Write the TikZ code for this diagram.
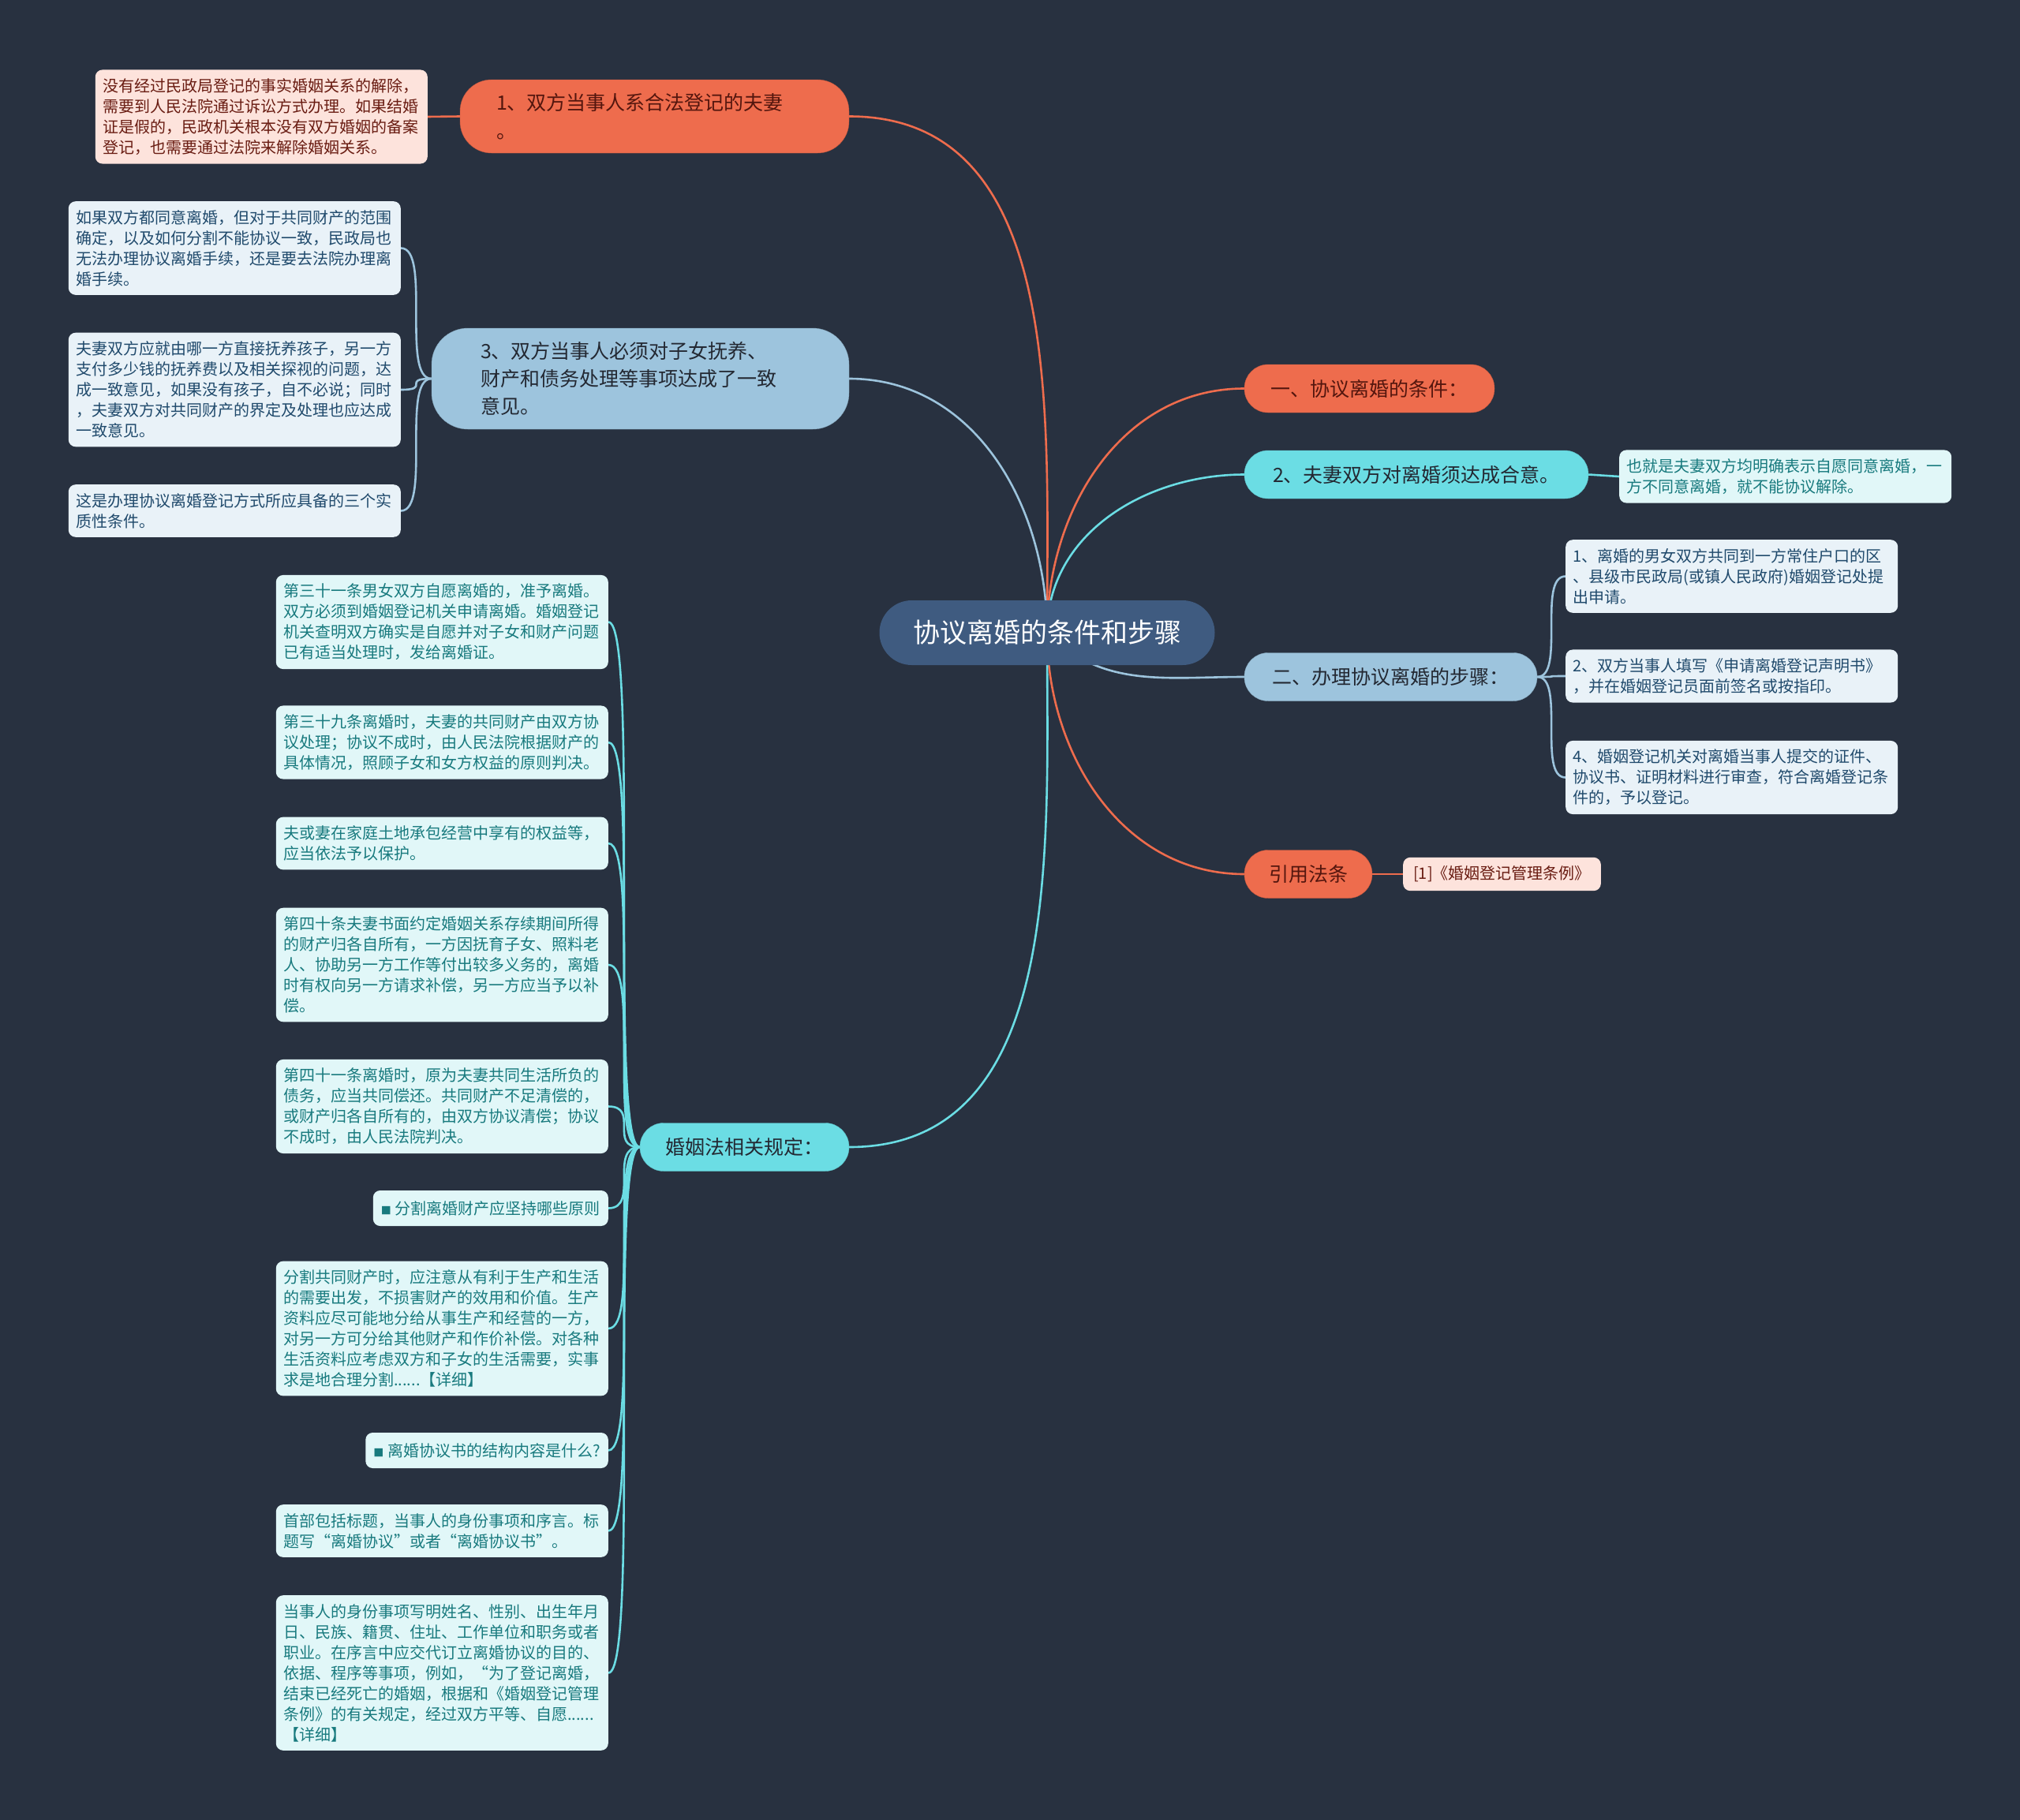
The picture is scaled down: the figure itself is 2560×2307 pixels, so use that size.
\documentclass[tikz,border=0pt]{standalone}
\usepackage{fontspec}
\newfontfamily\cjk{Noto Sans CJK SC}
\pgfdeclarelayer{bg}
\pgfdeclarelayer{edges}
\pgfsetlayers{bg,edges,main}

\definecolor{bgcol}{RGB}{40,49,64}
\definecolor{rootcol}{RGB}{63,91,128}
\definecolor{orangecol}{RGB}{238,108,77}
\definecolor{bluecol}{RGB}{157,196,221}
\definecolor{cyancol}{RGB}{107,221,228}
\definecolor{pinkleaf}{RGB}{253,227,220}
\definecolor{blueleaf}{RGB}{233,242,248}
\definecolor{cyanleaf}{RGB}{225,247,248}
\definecolor{pinktext}{RGB}{105,28,18}
\definecolor{bluetext}{RGB}{32,74,108}
\definecolor{cyantext}{RGB}{24,122,126}
\definecolor{darktext}{RGB}{35,40,50}

\begin{document}
\begin{tikzpicture}[x=1pt,y=-1pt]

\tikzstyle{rootnode} = [rectangle, rounded corners=41pt, minimum width=425pt, minimum height=82pt, fill=rootcol, text=white, font=\cjk\fontsize{34}{40}\selectfont]
\tikzstyle{branch} = [rectangle, rounded corners=30pt, minimum height=61pt, text=darktext, font=\cjk\fontsize{25}{36}\selectfont]
\tikzstyle{orangebranch} = [branch, fill=orangecol, draw=orangecol!80!black, text=pinktext!80!black]
\tikzstyle{bluebranch} = [branch, fill=bluecol, draw=bluecol!85!black]
\tikzstyle{cyanbranch} = [branch, fill=cyancol, draw=cyancol!85!black]
\tikzstyle{leaf} = [rectangle, rounded corners=9pt, text width=402pt, align=left, inner xsep=9.5pt, inner ysep=11pt, font=\cjk\fontsize{20}{26}\selectfont]
\tikzstyle{pinkbox} = [leaf, fill=pinkleaf, text=pinktext]
\tikzstyle{bluebox} = [leaf, fill=blueleaf, text=bluetext]
\tikzstyle{cyanbox} = [leaf, fill=cyanleaf, text=cyantext]
\tikzstyle{cyantag} = [rectangle, rounded corners=9pt, minimum height=45pt, inner xsep=10pt, fill=cyanleaf, text=cyantext, font=\cjk\fontsize{20}{26}\selectfont]
\tikzstyle{orangeline} = [draw=orangecol, line width=2.6pt]
\tikzstyle{blueline} = [draw=bluecol, line width=2.6pt]
\tikzstyle{cyanline} = [draw=cyancol, line width=2.6pt]

\begin{pgfonlayer}{bg}
\fill [bgcol] (0,0) rectangle (2560,2307);
\end{pgfonlayer}

% centre and main branches
\node (root) [rootnode] at (1327,802) {协议离婚的条件和步骤};
\node (b1) [orangebranch, minimum width=493pt, minimum height=93pt, text width=401pt, align=left, inner xsep=46pt, rounded corners=40pt] at (829.5,147.5) {1、双方当事人系合法登记的夫妻\\。};
\node (b3) [bluebranch, minimum width=529pt, minimum height=128pt, text width=405pt, align=left, inner xsep=62pt, rounded corners=46pt, font=\cjk\fontsize{25}{35}\selectfont] at (811.5,480) {3、双方当事人必须对子女抚养、\\财产和债务处理等事项达成了一致\\意见。};
\node (r1) [orangebranch, minimum width=317pt] at (1735.5,492.5) {一、协议离婚的条件：};
\node (r2) [cyanbranch, minimum width=436pt] at (1795,601.5) {2、夫妻双方对离婚须达成合意。};
\node (r3) [bluebranch, minimum width=371pt] at (1762.5,858) {二、办理协议离婚的步骤：};
\node (r4) [orangebranch, minimum width=162pt] at (1658,1108) {引用法条};
\node (law) [cyanbranch, minimum width=265pt] at (943.5,1454) {婚姻法相关规定：};

% leaves
\node (l1) [pinkbox, anchor=east] at (542,148) {没有经过民政局登记的事实婚姻关系的解除，\\需要到人民法院通过诉讼方式办理。如果结婚\\证是假的，民政机关根本没有双方婚姻的备案\\登记，也需要通过法院来解除婚姻关系。};

\node (b3a) [bluebox, anchor=east] at (508,314.5) {如果双方都同意离婚，但对于共同财产的范围\\确定，以及如何分割不能协议一致，民政局也\\无法办理协议离婚手续，还是要去法院办理离\\婚手续。};
\node (b3b) [bluebox, anchor=east] at (508,494) {夫妻双方应就由哪一方直接抚养孩子，另一方\\支付多少钱的抚养费以及相关探视的问题，达\\成一致意见，如果没有孩子，自不必说；同时\\，夫妻双方对共同财产的界定及处理也应达成\\一致意见。};
\node (b3c) [bluebox, anchor=east] at (508,647.5) {这是办理协议离婚登记方式所应具备的三个实\\质性条件。};

\node (r2a) [cyanbox, anchor=west] at (2052,604) {也就是夫妻双方均明确表示自愿同意离婚，一\\方不同意离婚，就不能协议解除。};

\node (s1) [bluebox, anchor=west] at (1984,730.5) {1、离婚的男女双方共同到一方常住户口的区\\、县级市民政局(或镇人民政府)婚姻登记处提\\出申请。};
\node (s2) [bluebox, anchor=west] at (1984,857) {2、双方当事人填写《申请离婚登记声明书》\\，并在婚姻登记员面前签名或按指印。};
\node (s3) [bluebox, anchor=west] at (1984,985.5) {4、婚姻登记机关对离婚当事人提交的证件、\\协议书、证明材料进行审查，符合离婚登记条\\件的，予以登记。};

\node (ref) [pinkbox, anchor=west, text width=, inner xsep=13pt] at (1778,1108) {[1]《婚姻登记管理条例》};

\node (c1) [cyanbox, anchor=east] at (771,788.5) {第三十一条男女双方自愿离婚的，准予离婚。\\双方必须到婚姻登记机关申请离婚。婚姻登记\\机关查明双方确实是自愿并对子女和财产问题\\已有适当处理时，发给离婚证。};
\node (c2) [cyanbox, anchor=east] at (771,941) {第三十九条离婚时，夫妻的共同财产由双方协\\议处理；协议不成时，由人民法院根据财产的\\具体情况，照顾子女和女方权益的原则判决。};
\node (c3) [cyanbox, anchor=east] at (771,1069) {夫或妻在家庭土地承包经营中享有的权益等，\\应当依法予以保护。};
\node (c4) [cyanbox, anchor=east] at (771,1223) {第四十条夫妻书面约定婚姻关系存续期间所得\\的财产归各自所有，一方因抚育子女、照料老\\人、协助另一方工作等付出较多义务的，离婚\\时有权向另一方请求补偿，另一方应当予以补\\偿。};
\node (c5) [cyanbox, anchor=east] at (771,1402.5) {第四十一条离婚时，原为夫妻共同生活所负的\\债务，应当共同偿还。共同财产不足清偿的，\\或财产归各自所有的，由双方协议清偿；协议\\不成时，由人民法院判决。};
\node (c6) [cyantag, anchor=east] at (771,1531.5) {{\fontsize{13}{13}\selectfont ■}\hspace{5pt}分割离婚财产应坚持哪些原则};
\node (c7) [cyanbox, anchor=east] at (771,1684) {分割共同财产时，应注意从有利于生产和生活\\的需要出发，不损害财产的效用和价值。生产\\资料应尽可能地分给从事生产和经营的一方，\\对另一方可分给其他财产和作价补偿。对各种\\生活资料应考虑双方和子女的生活需要，实事\\求是地合理分割......【详细】};
\node (c8) [cyantag, anchor=east] at (771,1838.5) {{\fontsize{13}{13}\selectfont ■}\hspace{5pt}离婚协议书的结构内容是什么?};
\node (c9) [cyanbox, anchor=east] at (771,1940.5) {首部包括标题，当事人的身份事项和序言。标\\题写“离婚协议”或者“离婚协议书”。};
\node (c10) [cyanbox, anchor=east] at (771,2120.5) {当事人的身份事项写明姓名、性别、出生年月\\日、民族、籍贯、住址、工作单位和职务或者\\职业。在序言中应交代订立离婚协议的目的、\\依据、程序等事项，例如，“为了登记离婚，\\结束已经死亡的婚姻，根据和《婚姻登记管理\\条例》的有关规定，经过双方平等、自愿......\\【详细】};

\begin{pgfonlayer}{edges}
\draw [orangeline] (root.center) to[out=90,in=0] (b1.east);
\draw [blueline] (root.center) to[out=90,in=0] (b3.east);
\draw [orangeline] (root.center) to[out=90,in=180] (r1.west);
\draw [cyanline] (root.center) to[out=90,in=180] (r2.west);
\draw [blueline] (root.center) to[out=-45,in=180] (r3.west);
\draw [orangeline] (root.center) to[out=-90,in=180] (r4.west);
\draw [cyanline] (root.center) to[out=-90,in=0] (law.east);

\draw [orangeline] (b1.west) -- (l1.east);
\draw [blueline] (b3.west) .. controls +(-39,0) and +(39,0) .. (b3a.east);
\draw [blueline] (b3.west) .. controls +(-39,0) and +(39,0) .. (b3b.east);
\draw [blueline] (b3.west) .. controls +(-39,0) and +(39,0) .. (b3c.east);
\draw [cyanline] (r2.east) -- (r2a.west);
\draw [blueline] (r3.east) .. controls +(36,0) and +(-36,0) .. (s1.west);
\draw [blueline] (r3.east) .. controls +(36,0) and +(-36,0) .. (s2.west);
\draw [blueline] (r3.east) .. controls +(36,0) and +(-36,0) .. (s3.west);
\draw [orangeline] (r4.east) -- (ref.west);
\draw [cyanline] (law.west) .. controls +(-40,0) and +(40,0) .. (c1.east);
\draw [cyanline] (law.west) .. controls +(-40,0) and +(40,0) .. (c2.east);
\draw [cyanline] (law.west) .. controls +(-40,0) and +(40,0) .. (c3.east);
\draw [cyanline] (law.west) .. controls +(-40,0) and +(40,0) .. (c4.east);
\draw [cyanline] (law.west) .. controls +(-40,0) and +(40,0) .. (c5.east);
\draw [cyanline] (law.west) .. controls +(-40,0) and +(40,0) .. (c6.east);
\draw [cyanline] (law.west) .. controls +(-40,0) and +(40,0) .. (c7.east);
\draw [cyanline] (law.west) .. controls +(-40,0) and +(40,0) .. (c8.east);
\draw [cyanline] (law.west) .. controls +(-40,0) and +(40,0) .. (c9.east);
\draw [cyanline] (law.west) .. controls +(-40,0) and +(40,0) .. (c10.east);
\end{pgfonlayer}

\end{tikzpicture}
\end{document}
